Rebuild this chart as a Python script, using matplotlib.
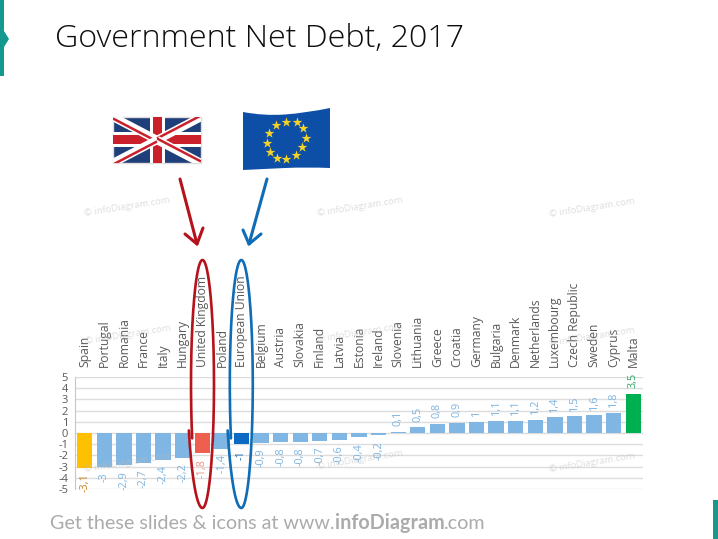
"""
Government net debt 2017 slide, bars plus flag and arrow callouts.
"""
import numpy as np
import matplotlib

matplotlib.use("Agg")
import matplotlib.pyplot as plt
from matplotlib.patches import PathPatch, Polygon, Rectangle
from matplotlib.path import Path

countries = [
    "Spain", "Portugal", "Romania", "France", "Italy", "Hungary",
    "United Kingdom", "Poland", "European Union", "Belgium", "Austria",
    "Slovakia", "Finland", "Latvia", "Estonia", "Ireland", "Slovenia",
    "Lithuania", "Greece", "Croatia", "Germany", "Bulgaria", "Denmark",
    "Netherlands", "Luxembourg", "Czech Republic", "Sweden", "Cyprus", "Malta",
]
debt = [
    -3.1, -3, -2.9, -2.7, -2.4, -2.2, -1.8, -1.4, -1, -0.9, -0.8, -0.8, -0.7,
    -0.6, -0.4, -0.2, 0.1, 0.5, 0.8, 0.9, 1, 1.1, 1.1, 1.2, 1.4, 1.5, 1.6, 1.8,
    3.5,
]
y_ticks = [5, 4, 3, 2, 1, 0, -1, -2, -3, -4, -5]
special_bars = {
    "Spain": "#ffc000",
    "United Kingdom": "#ef5f50",
    "European Union": "#0a69c2",
    "Malta": "#00b050",
}
special_labels = {
    "Spain": "#c8862a",
    "United Kingdom": "#ef8f82",
    "European Union": "#1f6fb8",
    "Malta": "#2ea866",
}
DEFAULT_BAR = "#7fb6e3"
DEFAULT_LABEL = "#7db4e0"
GREY_TEXT = "#595959"
RED = "#b5121b"
BLUE = "#0f6cb6"
TEAL = "#15998e"

W, H = 718, 539
plt.rcParams["font.family"] = ["Open Sans", "DejaVu Sans"]

fig = plt.figure(figsize=(W / 100, H / 100), dpi=100)

# Chart area: x 75-643, y 377-489 in slide pixels
ax = fig.add_axes([75 / W, 1 - 489 / H, 568 / W, 112 / H])
x = np.arange(len(countries))
colors = [special_bars.get(c, DEFAULT_BAR) for c in countries]
ax.bar(x, debt, width=0.78, color=colors, zorder=3)
ax.set_xlim(-0.5, len(countries) - 0.5)
ax.set_ylim(-5, 5)

ax.set_yticks(y_ticks)
ax.set_yticklabels([str(v) for v in y_ticks], fontsize=8, color=GREY_TEXT)
ax.tick_params(axis="y", length=0, pad=5)
ax.grid(axis="y", color="#dcdcdc", lw=1, zorder=0)

ax.xaxis.tick_top()
ax.set_xticks(x)
ax.set_xticklabels(countries, rotation=90, fontsize=8.7, color=GREY_TEXT)
ax.tick_params(axis="x", length=0, pad=7)

for side in ["top", "right", "bottom"]:
    ax.spines[side].set_visible(False)
ax.spines["left"].set_color("#c8c8c8")

# Value labels, decimal comma like the source
for i, (name, val) in enumerate(zip(countries, debt)):
    ax.annotate(
        f"{val:g}".replace(".", ","),
        (i, val),
        xytext=(0, 4 if val > 0 else -4),
        textcoords="offset points",
        rotation=90,
        ha="center",
        va="bottom" if val > 0 else "top",
        fontsize=7.8,
        color=special_labels.get(name, DEFAULT_LABEL),
        zorder=4,
    )

# Overlay in slide pixels for the decoration
over = fig.add_axes([0, 0, 1, 1], zorder=5)
over.set_xlim(0, W)
over.set_ylim(H, 0)
over.axis("off")
over.patch.set_alpha(0)

# Title and footer
over.text(55, 39, "Government Net Debt, 2017", fontsize=23.2, color="#0d0d0d",
          fontweight="light", va="center", ha="left")

renderer = fig.canvas.get_renderer()
foot_x = 50
for part, weight in [("Get these slides & icons at www.", "normal"),
                     ("infoDiagram", "bold"), (".com", "normal")]:
    t = over.text(foot_x, 529, part, fontsize=14.2, color="#ababab",
                  family=["Lato", "DejaVu Sans"], fontweight=weight,
                  va="baseline", ha="left")
    foot_x = t.get_window_extent(renderer).x1

# Teal edge markers
over.add_patch(Polygon([(0, 0), (4, 0), (4, 31), (9, 39), (4, 47), (4, 76), (0, 76)],
                       closed=True, color=TEAL, lw=0))
over.add_patch(Rectangle((713, 500), 5, 39, color=TEAL, lw=0))

# Watermarks
for wx, wy in [(127, 207), (360, 207), (592, 208), (360, 333), (128, 335),
               (360, 460), (592, 463), (127, 463), (592, 337)]:
    over.text(wx, wy, "© infoDiagram.com", fontsize=6.8, color="#bdbdbd", alpha=0.5,
              rotation=9, ha="center", va="center", zorder=1)


def draw_ring(cx, color):
    # hand drawn look: the lower left end overshoots the start of the stroke
    cy, rx, ry = 384, 11.5, 124
    t = np.radians(np.linspace(154, 518, 300))
    shift = np.where(t > np.radians(450), -3 * (t - np.radians(450)) / np.radians(68), 0)
    over.plot(cx + rx * np.cos(t) + shift, cy + ry * np.sin(t), color=color, lw=1.9,
              solid_capstyle="round")


draw_ring(202.5, RED)
draw_ring(241.3, BLUE)


def draw_arrow(start, tip, left, right, color):
    over.plot([start[0], tip[0]], [start[1], tip[1]], color=color, lw=2.2,
              solid_capstyle="round")
    over.plot([left[0], tip[0], right[0]], [left[1], tip[1], right[1]],
              color=color, lw=2.2, solid_capstyle="round", solid_joinstyle="round")


draw_arrow((180, 179), (197, 244), (185, 234), (203, 228), RED)
draw_arrow((267, 179), (249, 244), (243, 230), (261, 234), BLUE)

# UK flag
UK_NAVY = "#1f3f7a"
UK_RED = "#c9202c"
uk_box = Rectangle((113, 117), 88, 46, facecolor=UK_NAVY, edgecolor="#dddddd", lw=1)
over.add_patch(uk_box)
uk_mid = (157, 140)
for corner, red_shift in [((113, 117), 1.5), ((201, 117), -1.5),
                          ((201, 163), -1.5), ((113, 163), 1.5)]:
    white, = over.plot([corner[0], uk_mid[0]], [corner[1], uk_mid[1]], color="white",
                       lw=6, solid_capstyle="butt")
    white.set_clip_path(uk_box)
    red, = over.plot([corner[0], uk_mid[0]],
                     [corner[1] + red_shift, uk_mid[1] + red_shift],
                     color=UK_RED, lw=1.8, solid_capstyle="butt")
    red.set_clip_path(uk_box)
over.add_patch(Rectangle((150, 117), 15, 46, color="white", lw=0))
over.add_patch(Rectangle((113, 132), 88, 15, color="white", lw=0))
over.add_patch(Rectangle((153, 117), 9, 46, color=UK_RED, lw=0))
over.add_patch(Rectangle((113, 135), 88, 9, color=UK_RED, lw=0))

# EU flag with a small wave on the edges
eu_verts = [
    (243, 112), (264, 116), (285, 114.5), (306, 113), (330, 108),
    (330, 168), (306, 167), (285, 168), (264, 169), (243, 170), (243, 112),
]
eu_codes = [Path.MOVETO, Path.CURVE3, Path.CURVE3, Path.CURVE3, Path.CURVE3,
            Path.LINETO, Path.CURVE3, Path.CURVE3, Path.CURVE3, Path.CURVE3,
            Path.CLOSEPOLY]
over.add_patch(PathPatch(Path(eu_verts, eu_codes), facecolor="#0d4ea6", lw=0))
star_x = [286, 297, 303, 306, 302, 296, 286, 277, 270, 267, 269, 276]
star_y = [122, 122, 128, 138, 147, 155, 159, 158, 152, 143, 133, 125]
over.scatter(star_x, star_y, marker="*", s=55, color="#f5d327", lw=0)

fig.savefig("out.png", dpi=100)
